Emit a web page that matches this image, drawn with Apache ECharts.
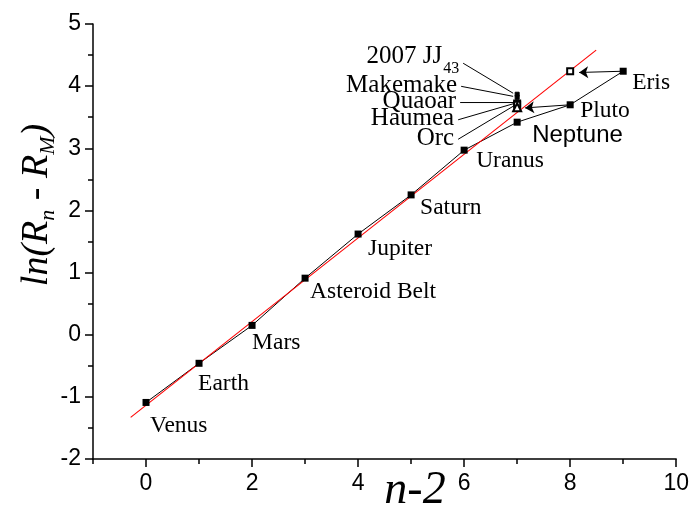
<!DOCTYPE html>
<html><head><meta charset="utf-8">
<script src="https://cdn.jsdelivr.net/npm/echarts@6/dist/echarts.min.js"></script>
<style>html,body{margin:0;padding:0;background:#fff}#c{width:692px;height:509px}</style>
</head><body><div id="c"></div>
<script>
// ---- data ----
const planetNames = ['Venus','Earth','Mars','Asteroid Belt','Jupiter','Saturn','Uranus','Neptune','Pluto','Eris'];
const planetX = [0,1,2,3,4,5,6,7,8,9];
const planetY = [-1.09,-0.46,0.15,0.91,1.62,2.25,2.97,3.42,3.70,4.24];

const dwarfNames = ['2007 JJ','Makemake','Quaoar','Haumea','Orc'];
const dwarfSub   = ['43','','','',''];
const dwarfX = [7,7,7,7,7];
const dwarfY = [3.87,3.82,3.72,3.70,3.66];
const dwarfSymbols = ['rect','rect','emptyRect','emptyRect','emptyTriangle'];

const movedX = [8];
const movedY = [4.24];

const fitX = [-0.29, 8.49];
const fitY = [-1.33, 4.58];

const arrowFrom = [[9,4.24],[8,3.70]];
const arrowTo   = [[8.17,4.22],[7.15,3.65]];

const xTickLabels = [0,2,4,6,8,10];

// ---- layout (label offsets in px, relative to the marker) ----
const planetLabelOffset = [[4,23],[-1,21],[0,17],[5,14],[10,15],[9,13],[12,11],[15,13],[10,6],[9,12]];
const dwarfLabelOffset = [[-75,-38],[-60,-12],[-61,-2],[-63,14],[-63,31]];

const SERIF = '"Liberation Serif","Times New Roman",serif';
const SANS = '"Liberation Sans",Arial,sans-serif';

const chart = echarts.init(document.getElementById('c'));
const lineBlack = {color:'#000', width:1.5};

const option = {
  animation:false,
  backgroundColor:'#fff',
  grid:{left:93,right:12,top:24,bottom:50,containLabel:false},
  xAxis:[{
    type:'value',min:-1,max:10,position:'bottom',
    axisLine:{show:true,onZero:false,lineStyle:lineBlack},
    axisTick:{show:true,customValues:xTickLabels,length:8,lineStyle:lineBlack},
    axisLabel:{customValues:xTickLabels,fontSize:23,fontFamily:SANS,color:'#000',margin:13},
    splitLine:{show:false}
  },{
    type:'value',min:-1,max:10,interval:2,position:'bottom',
    axisLine:{show:false,onZero:false},
    axisTick:{show:true,length:5,lineStyle:lineBlack},
    axisLabel:{show:false},
    splitLine:{show:false}
  }],
  yAxis:{
    type:'value',min:-2,max:5,interval:1,
    axisLine:{show:true,onZero:false,lineStyle:lineBlack},
    axisTick:{show:true,length:8,lineStyle:lineBlack},
    minorTick:{show:true,splitNumber:2,length:5,lineStyle:lineBlack},
    axisLabel:{fontSize:23,fontFamily:SANS,color:'#000',margin:12},
    splitLine:{show:false},minorSplitLine:{show:false}
  },
  series:[
    {type:'line',name:'fit',data:fitX.map((x,i)=>[x,fitY[i]]),showSymbol:false,
     lineStyle:{color:'#ff0000',width:1.1},z:3,silent:true},
    {type:'line',name:'link',data:planetX.map((x,i)=>[x,planetY[i]]),showSymbol:false,
     lineStyle:{color:'#000',width:1},z:2,silent:true},
    {type:'scatter',name:'planets',symbol:'rect',symbolSize:7,itemStyle:{color:'#000',opacity:1},z:5,
     data:planetX.map((x,i)=>({value:[x,planetY[i]],name:planetNames[i],
       label:{show:true,position:'inside',offset:planetLabelOffset[i],align:'left',verticalAlign:'middle',
         formatter:'{b}',color:'#000',textBorderWidth:0,opacity:1,
         fontFamily: planetNames[i]==='Neptune'?SANS:SERIF,
         fontSize: planetNames[i]==='Neptune'?24:23.5}}))},
    {type:'scatter',name:'dwarfs',symbolSize:6,itemStyle:{color:'#000',borderColor:'#000',borderWidth:1,opacity:1},z:6,
     data:dwarfX.map((x,i)=>({value:[x,dwarfY[i]],name:dwarfNames[i]+dwarfSub[i],symbol:dwarfSymbols[i],
       symbolSize: dwarfSymbols[i]==='rect'?4:(dwarfSymbols[i]==='emptyTriangle'?8:6)}))},
    {type:'scatter',name:'moved',symbol:'emptyRect',symbolSize:6,itemStyle:{color:'#000',borderWidth:1,opacity:1},z:6,
     data:movedX.map((x,i)=>[x,movedY[i]]),
     markLine:{silent:true,symbol:['none','arrow'],symbolSize:9,label:{show:false},
       lineStyle:{color:'#000',width:1,type:'solid',opacity:1},emphasis:{disabled:true},
       data:arrowFrom.map((f,i)=>[{coord:f},{coord:arrowTo[i]}])}}
  ]
};
chart.setOption(option);

// ---- annotations: dwarf-planet labels with leader lines, axis titles ----
const ctx = document.createElement('canvas').getContext('2d');
function tw(t,font){ctx.font=font;return ctx.measureText(t).width;}
const g = [];
dwarfX.forEach((x,i)=>{
  const p = chart.convertToPixel({gridIndex:0},[x,dwarfY[i]]);
  const o = dwarfLabelOffset[i];
  const rx = p[0]+o[0], cy = p[1]+o[1];
  g.push({type:'text',x:rx,y:cy,style:{text:dwarfNames[i],fontSize:25,fontFamily:'Liberation Serif',fontWeight:'normal',fill:'#000',align:'right',verticalAlign:'middle'},silent:true});
  let endX = rx;
  if(dwarfSub[i]){
    g.push({type:'text',x:rx+1,y:cy+13,style:{text:dwarfSub[i],fontSize:16,fontFamily:'Liberation Serif',fontWeight:'normal',fill:'#000',align:'left',verticalAlign:'middle'},silent:true});
    endX = rx+1+tw(dwarfSub[i],'16px "Liberation Serif"');
  }
  const sy = dwarfSub[i]? cy+7 : cy+1;
  g.push({type:'line',shape:{x1:endX+4,y1:sy,x2:p[0]-4,y2:p[1]-1},style:{stroke:'#000',lineWidth:1},silent:true});
});

// y axis title (rotated)
const yParts = [
  {t:'ln(R',s:38,dy:0},
  {t:'n',s:22,dy:11},
  {t:' - R',s:38,dy:0},
  {t:'M',s:22,dy:11},
  {t:')',s:38,dy:0}
];
let total = 0; yParts.forEach(p=>{p.w=tw(p.t,'italic '+p.s+'px "Liberation Serif"');total+=p.w;});
let cx = -total/2; const kids=[];
yParts.forEach(p=>{kids.push({type:'text',x:cx,y:p.dy,style:{text:p.t,fontSize:p.s,fontStyle:'italic',fontFamily:'Liberation Serif',fill:'#000',align:'left',verticalAlign:'middle'}});cx+=p.w;});
g.push({type:'group',x:37,y:205,rotation:Math.PI/2,children:kids,silent:true});

// x axis title
g.push({type:'text',x:415,y:491,style:{text:'n-2',fontSize:46,fontStyle:'italic',fontFamily:'Liberation Serif',fill:'#000',align:'center',verticalAlign:'middle'},silent:true});

chart.setOption({graphic:g});
</script></body></html>
